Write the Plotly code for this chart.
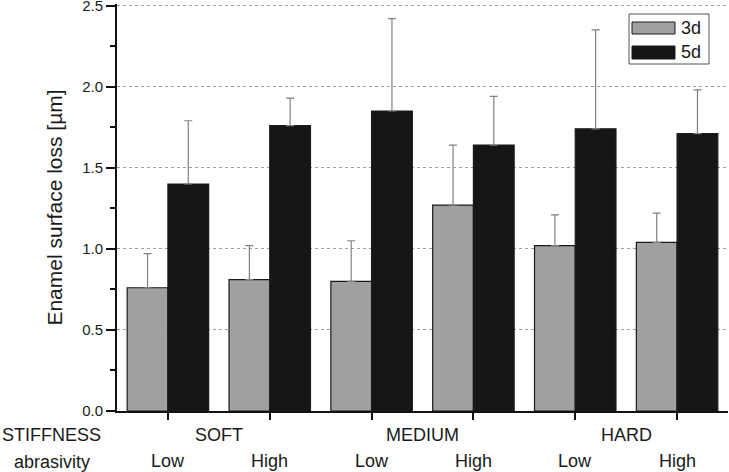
import plotly.graph_objects as go

stiffness = ["SOFT", "SOFT", "MEDIUM", "MEDIUM", "HARD", "HARD"]
abrasivity = ["Low", "High", "Low", "High", "Low", "High"]
stiffness_groups = ["SOFT", "MEDIUM", "HARD"]
series_names = ["3d", "5d"]
loss_3d = [0.76, 0.81, 0.80, 1.27, 1.02, 1.04]
loss_3d_err = [0.21, 0.21, 0.25, 0.37, 0.19, 0.18]
loss_5d = [1.40, 1.76, 1.85, 1.64, 1.74, 1.71]
loss_5d_err = [0.39, 0.17, 0.57, 0.30, 0.61, 0.27]
y_ticks = [0.0, 0.5, 1.0, 1.5, 2.0, 2.5]

OY = 10  # extra room above, hidden by shifting the page up
W, H = 729, 472 + OY
L, R, T, B = 117, 1, 4 + OY, 61
pw, ph = W - L - R, H - T - B

def px(xpix):
    return (xpix - L) / pw

def py(ypix):
    # ypix measured in the visible 729x472 picture
    return (H - B - (ypix + OY)) / ph

xpos = list(range(len(abrasivity)))
font = "Liberation Sans, Arial, sans-serif"

fig = go.Figure()
colors = ["#a0a0a0", "#161616"]
for name, vals, errs, col in [(series_names[0], loss_3d, loss_3d_err, colors[0]),
                              (series_names[1], loss_5d, loss_5d_err, colors[1])]:
    fig.add_trace(go.Bar(
        x=xpos, y=vals, name=name,
        marker=dict(color=col, line=dict(color="#1a1a1a", width=1.2)),
        error_y=dict(type="data", array=errs, arrayminus=[0] * len(errs), symmetric=False,
                     color="#808080", thickness=1.2, width=4),
        showlegend=False,
    ))

fig.update_layout(
    width=W, height=H,
    margin=dict(l=L, r=R, t=T, b=B, autoexpand=False),
    paper_bgcolor="white", plot_bgcolor="white",
    barmode="group", bargap=0.2, bargroupgap=0,
    font=dict(family=font, size=15, color="#1a1a1a"),
    xaxis=dict(range=[-0.5, 5.5], tickvals=xpos, ticktext=[""] * 6,
               showline=True, linecolor="#111", linewidth=2,
               ticks="outside", ticklen=7, tickwidth=1.5, tickcolor="#111",
               showgrid=False, zeroline=False),
    yaxis=dict(range=[0, 2.51], tickvals=y_ticks, tickformat=".1f",
               showline=True, linecolor="#111", linewidth=2,
               ticks="outside", ticklen=9, tickwidth=1.5, tickcolor="#111",
               showgrid=True, gridcolor="#a0a0a0", griddash="dot", gridwidth=1,
               zeroline=False, tickfont=dict(size=15),
               minor=dict(dtick=0.25, ticks="outside", ticklen=5, tickwidth=1.5,
                          tickcolor="#111", showgrid=False),
               title=dict(text="Enamel surface loss [µm]", font=dict(size=21), standoff=14)),
)

ann = []
for i, a in enumerate(abrasivity):
    ann.append(dict(x=xpos[i], y=py(461), xref="x", yref="paper", text=a,
                    showarrow=False, font=dict(size=18), xanchor="center", yanchor="middle"))
for j, s in enumerate(stiffness_groups):
    ann.append(dict(x=2 * j + 0.5, y=py(435), xref="x", yref="paper", text=s,
                    showarrow=False, font=dict(size=18), xanchor="center", yanchor="middle"))
ann.append(dict(x=px(51), y=py(435), xref="paper", yref="paper", text="STIFFNESS",
                showarrow=False, font=dict(size=18), xanchor="center", yanchor="middle"))
ann.append(dict(x=px(52), y=py(462), xref="paper", yref="paper", text="abrasivity",
                showarrow=False, font=dict(size=18), xanchor="center", yanchor="middle"))
# legend
ann.append(dict(x=px(679), y=py(28), xref="paper", yref="paper", text=series_names[0],
                showarrow=False, font=dict(size=18), xanchor="left", yanchor="middle"))
ann.append(dict(x=px(679), y=py(52), xref="paper", yref="paper", text=series_names[1],
                showarrow=False, font=dict(size=18), xanchor="left", yanchor="middle"))
fig.update_layout(annotations=ann)

shapes = [
    dict(type="rect", xref="paper", yref="paper", x0=px(629), x1=px(709), y0=py(64), y1=py(14),
         line=dict(color="#555", width=1), fillcolor="white", layer="above"),
    dict(type="rect", xref="paper", yref="paper", x0=px(632), x1=px(675), y0=py(34), y1=py(22),
         line=dict(color="#1a1a1a", width=1), fillcolor=colors[0], layer="above"),
    dict(type="rect", xref="paper", yref="paper", x0=px(632), x1=px(675), y0=py(59), y1=py(46),
         line=dict(color="#1a1a1a", width=1), fillcolor=colors[1], layer="above"),
]
fig.update_layout(shapes=shapes)

fig.write_html("out.html", config={"displayModeBar": False},
               post_script="document.body.style.margin='0';document.body.style.overflow='hidden';"
                           "document.body.style.marginTop='-%dpx';" % OY)
